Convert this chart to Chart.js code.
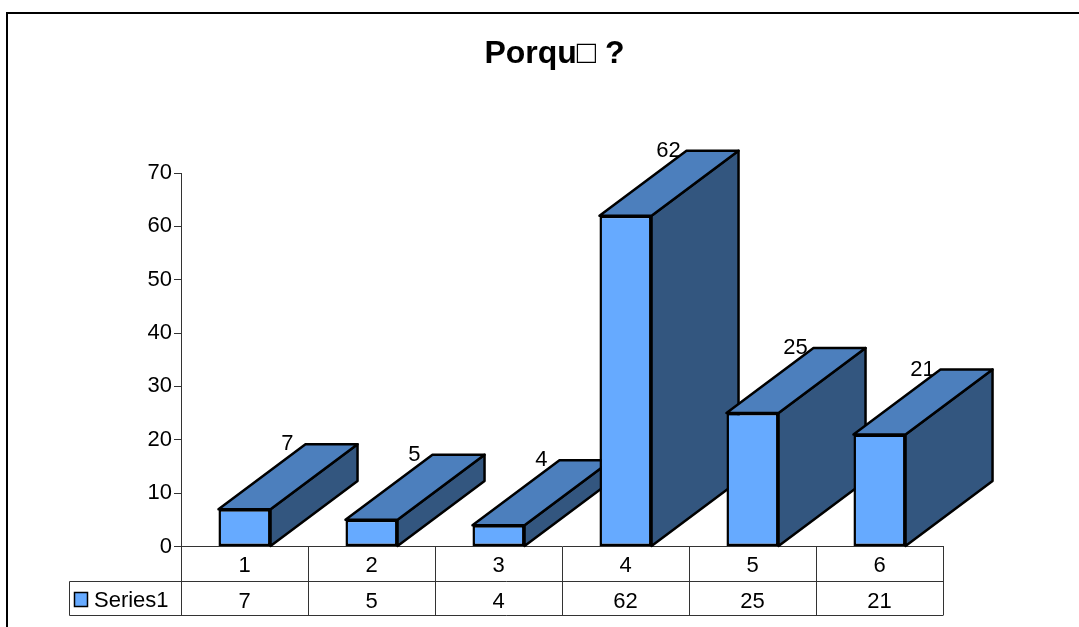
<!DOCTYPE html>
<html>
<head>
<meta charset="utf-8">
<script src="https://cdn.jsdelivr.net/npm/chart.js@4"></script>
<style>
  html, body { margin:0; padding:0; background:#fff; overflow:hidden; }
  #wrap { position:relative; width:1079px; height:627px; overflow:hidden; }
  #frame { position:absolute; left:6px; top:12px; width:1200px; height:800px; border:2.5px solid #000; pointer-events:none; }
</style>
</head>
<body>
<div id="wrap">
  <canvas id="chart" width="1079" height="627"></canvas>
  <div id="frame"></div>
</div>
<script>
const TITLE = "Porqu\u25A1 ?";
const SERIES_NAME = "Series1";
const categories = ["1","2","3","4","5","6"];
const values = [7,5,4,62,25,21];
const yTicks = [0,10,20,30,40,50,60,70];

const FONT = "'Liberation Sans', Arial, sans-serif";
const DEPTH_X = 87, DEPTH_Y = 65;   // oblique offset of the fake 3D

function poly(ctx, pts, fill){
  ctx.beginPath();
  pts.forEach((p,i)=> i ? ctx.lineTo(p[0],p[1]) : ctx.moveTo(p[0],p[1]));
  ctx.closePath();
  ctx.fillStyle = fill;
  ctx.fill();
  ctx.stroke();
}

/* sides and tops go under the front faces */
const depthPlugin = {
  id:"depth",
  beforeDatasetsDraw(chart){
    const ctx = chart.ctx;
    ctx.save();
    ctx.strokeStyle = "#000";
    ctx.lineWidth = 2.5;
    ctx.lineJoin = "round";
    chart.getDatasetMeta(0).data.forEach(bar=>{
      const p = bar.getProps(["x","y","base","width"], true);
      const l = p.x-p.width/2, r = p.x+p.width/2;
      poly(ctx, [[r,p.base],[r+DEPTH_X,p.base-DEPTH_Y],[r+DEPTH_X,p.y-DEPTH_Y],[r,p.y]], "#33567F");
      poly(ctx, [[l,p.y],[l+DEPTH_X,p.y-DEPTH_Y],[r+DEPTH_X,p.y-DEPTH_Y],[r,p.y]], "#4C7FBD");
    });
    ctx.restore();
  },
  afterDraw(chart){
    const ctx = chart.ctx, x = chart.scales.x;
    ctx.save();
    // value labels beside the back edge
    ctx.font = "22px "+FONT;
    ctx.fillStyle = "#000";
    ctx.textAlign = "center";
    ctx.textBaseline = "middle";
    chart.getDatasetMeta(0).data.forEach((bar,i)=>{
      const p = bar.getProps(["x","y","width"], true);
      ctx.fillText(values[i], p.x-p.width/2+DEPTH_X-18, p.y-DEPTH_Y);
    });
    // data table lines
    const row2 = 581.5, rowEnd = 615.5;
    ctx.strokeStyle = "#333";
    ctx.lineWidth = 1;
    ctx.beginPath();
    ctx.moveTo(69.5,row2); ctx.lineTo(x.right,row2);
    ctx.moveTo(69.5,rowEnd); ctx.lineTo(x.right,rowEnd);
    ctx.moveTo(69.5,row2); ctx.lineTo(69.5,rowEnd);
    ctx.stroke();
    // legend key + series name
    ctx.fillStyle = "#66AAFF";
    ctx.strokeStyle = "#000";
    ctx.lineWidth = 1.5;
    ctx.fillRect(74.5,592.5,13,14);
    ctx.strokeRect(74.5,592.5,13,14);
    ctx.fillStyle = "#000";
    ctx.textAlign = "left";
    ctx.fillText(SERIES_NAME, 94, 601);
    ctx.restore();
  },
  afterLayout(chart){
    // title is centred on the whole frame, not the plot
    chart.titleBlock.left = 30;
    chart.titleBlock.right = 1079;
  }
};

new Chart(document.getElementById("chart"),{
  type:"bar",
  data:{
    labels:categories,
    datasets:[{
      label:SERIES_NAME,
      data:values,
      backgroundColor:"#66AAFF",
      borderColor:"#000",
      borderWidth:2.5,
      borderSkipped:false,
      barPercentage:0.41,
      categoryPercentage:1
    }]
  },
  plugins:[depthPlugin],
  options:{
    responsive:false,
    animation:false,
    layout:{padding:{left:0,right:136,top:0,bottom:0}},
    plugins:{
      legend:{display:false},
      tooltip:{enabled:false},
      title:{
        display:true,
        text:TITLE,
        color:"#000",
        font:{family:FONT,size:32,weight:"bold",lineHeight:1.2},
        padding:{top:35,bottom:99.6}
      }
    },
    scales:{
      x:{
        afterFit(s){ s.height = 80.5; },
        grid:{drawOnChartArea:false,tickLength:69,color:"#333",lineWidth:1,offset:true},
        border:{color:"#333"},
        ticks:{
          autoSkip:false,
          maxRotation:0,
          padding:-68,
          color:"#000",
          font:{family:FONT,size:22,lineHeight:"36px"},
          callback(v,i){ return [categories[i], String(values[i])]; }
        }
      },
      y:{
        min:0,max:70,
        afterFit(s){ s.width = 181; },
        grid:{drawOnChartArea:false,tickLength:7,color:"#333"},
        border:{color:"#333"},
        afterBuildTicks(s){ s.ticks = yTicks.map(v=>({value:v})); },
        ticks:{padding:2,color:"#000",font:{family:FONT,size:22}}
      }
    }
  }
});
</script>
</body>
</html>
